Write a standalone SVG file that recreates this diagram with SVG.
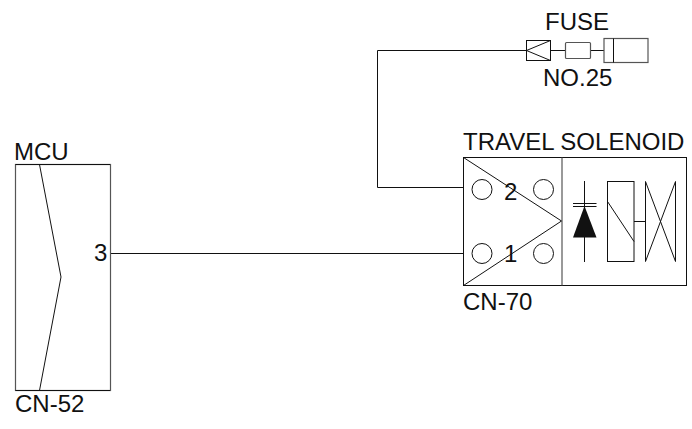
<svg xmlns="http://www.w3.org/2000/svg" width="692" height="429" viewBox="0 0 692 429">
<style>
.l{fill:none;stroke:#111;stroke-width:1}
.g{fill:none;stroke:#555;stroke-width:1.2}
text{font-family:"Liberation Sans",Arial,sans-serif;font-size:24px;fill:#111}
</style>
<rect width="692" height="429" fill="#fff"/>
<g id="connectors">
<path class="l" d="M526.500 50.500H377.500V187.500H463.500"/>
<path class="l" d="M110 253.500H463.500"/>
<path class="l" d="M550.500 50.500H565.500M590.500 50.500H604"/>
</g>
<g id="fuse">
<rect class="l" x="526.500" y="40.500" width="24" height="20"/>
<path class="l" d="M550.500 40.500L526.500 50.500L550.500 60.500"/>
<rect class="g" x="565.500" y="42.500" width="25" height="16" rx="1"/>
<rect class="g" x="604" y="38.500" width="44" height="24"/>
<path class="l" d="M613.500 38.500V62.500"/>
<text x="545" y="30">FUSE</text>
<text x="543" y="86">NO.25</text>
</g>
<g id="solenoid">
<rect class="l" x="463.500" y="157.500" width="223" height="128"/>
<path class="g" d="M562 157.500V285.500"/>
<path class="l" d="M463.500 157.500L561.500 221L463.500 285.500"/>
<circle class="l" cx="482" cy="189.500" r="10"/>
<circle class="l" cx="543.500" cy="189.500" r="10"/>
<circle class="l" cx="482" cy="253.500" r="10"/>
<circle class="l" cx="543.500" cy="253.500" r="10"/>
<text x="504" y="200">2</text>
<text x="504" y="262">1</text>
<path class="l" d="M584.500 181V262M573 203.500H596.500M573 206.500H596.500"/>
<path d="M584.500 206L573 237.500H596.500Z" fill="#111"/>
<rect class="l" x="607.500" y="181.500" width="26.500" height="80"/>
<path class="l" d="M607.500 201.500L634 241.500M634 221.500H645.500M645.500 181.500V261.500L675.500 181.500V261.500L645.500 181.500"/>
<text x="463" y="150">TRAVEL SOLENOID</text>
<text x="463" y="310">CN-70</text>
</g>
<g id="mcu">
<rect class="g" x="15.500" y="164.500" width="95" height="226"/>
<path class="l" d="M15.500 164.500H110M15.500 390.500H110"/>
<path class="l" d="M39.500 164.500L61 277L39.500 390.500"/>
<text x="94" y="261">3</text>
<text x="14" y="160">MCU</text>
<text x="15" y="412">CN-52</text>
</g>
</svg>
